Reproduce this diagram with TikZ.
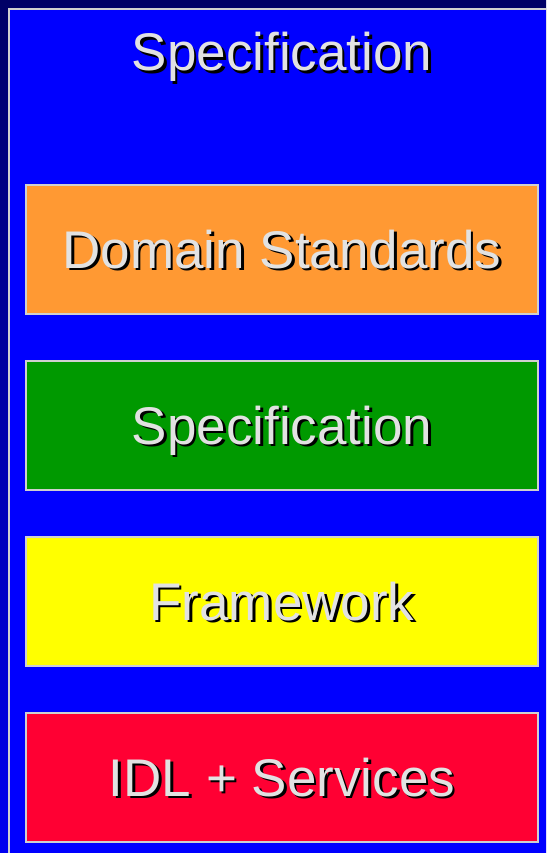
\documentclass[tikz,border=0pt]{standalone}
\usepackage{fontspec}
\setmainfont{Liberation Sans}
\definecolor{frameTop}{HTML}{000066}
\definecolor{frameBot}{HTML}{0000F0}
\definecolor{bgblue}{HTML}{0000FF}
\definecolor{edgegray}{HTML}{D0D0D0}
\definecolor{txtgray}{HTML}{E2E2E2}
\definecolor{cOrange}{HTML}{FF9933}
\definecolor{cGreen}{HTML}{009900}
\definecolor{cYellow}{HTML}{FFFF00}
\definecolor{cRed}{HTML}{FF0033}
\newcommand{\shadowed}[1]{%
  \rlap{\hspace{2.5pt}\raisebox{-2.5pt}{\textcolor{black}{#1}}}\textcolor{txtgray}{#1}}
\begin{document}
\begin{tikzpicture}[x=1pt,y=-1pt,
  lbl/.style={anchor=base, inner sep=0pt, font=\fontsize{53}{60}\selectfont},
  layer/.style={draw=edgegray, line width=2pt, minimum width=512pt, minimum height=129pt, inner sep=0pt, anchor=north west}]
\useasboundingbox (0,0) rectangle (546,853);
\shade[top color=frameTop, bottom color=frameBot] (0,0) rectangle (546,853);
\fill[bgblue] (9,9) rectangle (546,853);
\draw[edgegray, line width=2pt] (9,853) -- (9,9) -- (546,9);
\node[layer, fill=cOrange] (domain) at (25,184) {};
\node[layer, fill=cGreen] (spec) at (25,360) {};
\node[layer, fill=cYellow] (frame) at (25,536) {};
\node[layer, fill=cRed] (idl) at (25,712) {};
\node[lbl] (title) at (282,71) {\shadowed{Specification}};
\node[lbl] (domaintxt) at (282,268) {\shadowed{Domain Standards}};
\node[lbl] (spectxt) at (282,444) {\shadowed{Specification}};
\node[lbl] (frametxt) at (282,620) {\shadowed{Framework}};
\node[lbl] (idltxt) at (282,796) {\shadowed{IDL + Services}};
\end{tikzpicture}
\end{document}
